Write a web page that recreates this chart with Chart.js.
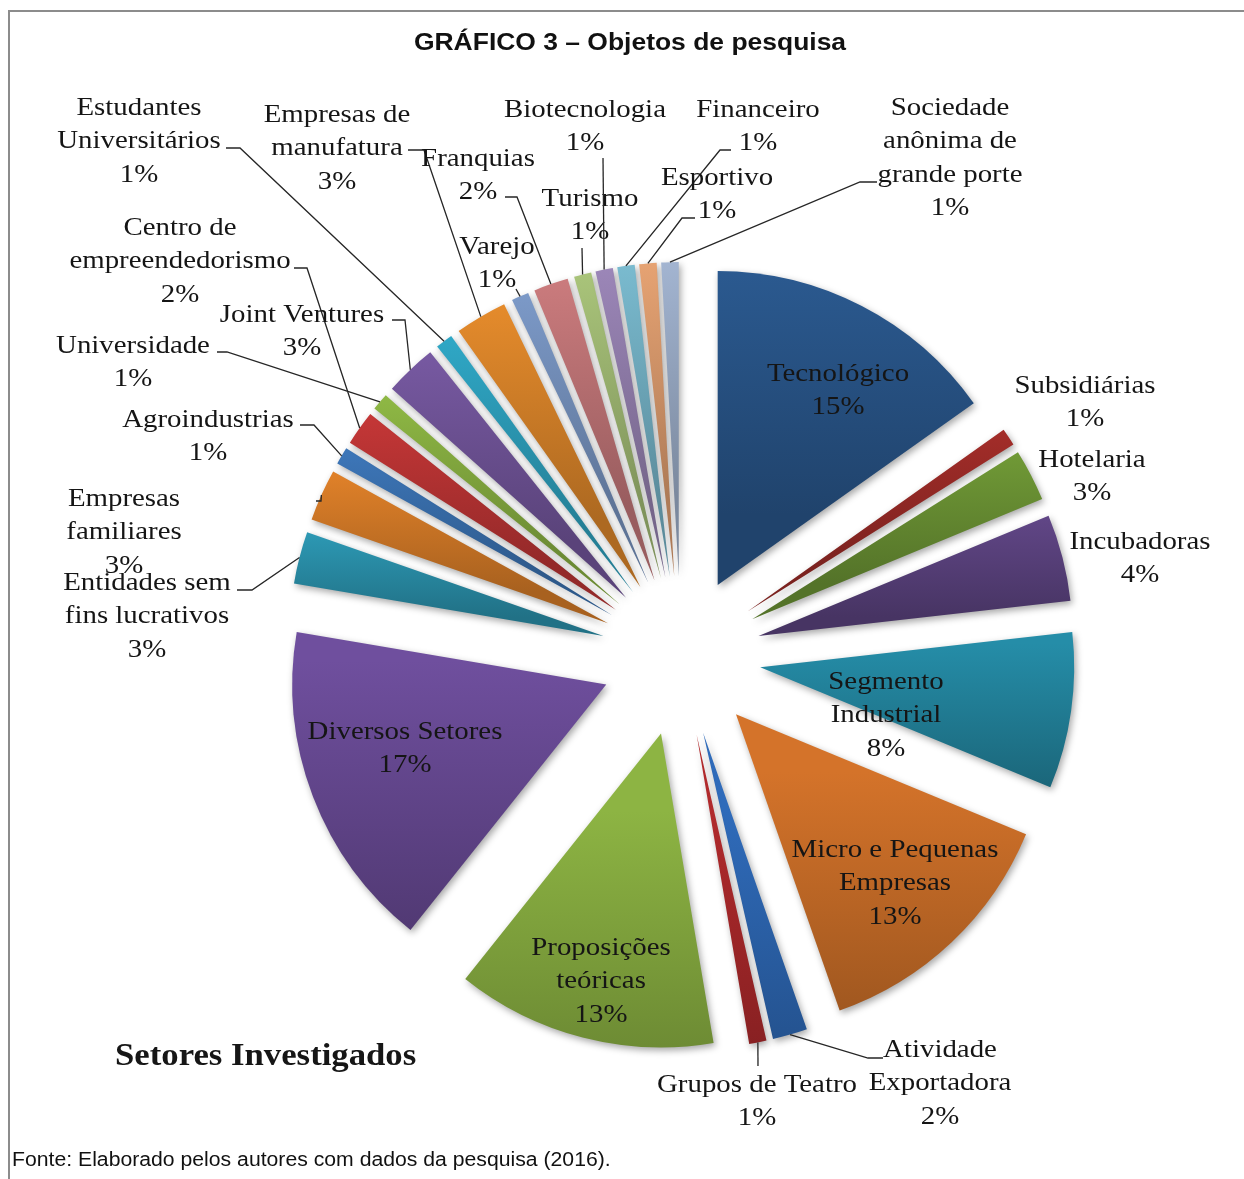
<!DOCTYPE html>
<html lang="pt-BR">
<head>
<meta charset="UTF-8">
<title>Gráfico 3 – Objetos de pesquisa</title>
<script src="https://cdn.jsdelivr.net/npm/chart.js@4.4.1/dist/chart.umd.min.js"></script>
<style>
  body { margin: 0; background: #fff; width: 1244px; height: 1179px; overflow: hidden; position: relative; }
  #moldura { position: absolute; left: 8px; top: 10px; right: -5px; bottom: -5px; border-top: 2px solid #8c8c8c; border-left: 2px solid #8c8c8c; }
  #grafico { position: absolute; left: 0; top: 0; }
  #titulo { position: absolute; left: 630px; top: 29px; line-height: 28px; font: bold 23px "Liberation Sans", Arial, sans-serif; color: #111; white-space: nowrap; transform: translateX(-50%) scaleX(1.15); }
  #setores { position: absolute; left: 115px; top: 1037px; line-height: 38px; font: bold 31px "Liberation Serif", "Times New Roman", serif; color: #161616; white-space: nowrap; transform: scaleX(1.12); transform-origin: left center; }
  #fonte { position: absolute; left: 12px; top: 1148px; line-height: 24px; font: 20px "Liberation Sans", Arial, sans-serif; color: #111; white-space: nowrap; transform: scaleX(1.06); transform-origin: left center; }
</style>
</head>
<body>
<div id="moldura"></div>
<canvas id="grafico" width="1244" height="1179"></canvas>
<div id="titulo">GRÁFICO 3 – Objetos de pesquisa</div>
<div id="setores">Setores Investigados</div>
<div id="fonte">Fonte: Elaborado pelos autores com dados da pesquisa (2016).</div>
<script>
// DADOS //

// setores na ordem do gráfico (sentido horário a partir do topo)
const categorias = [
  "Tecnológico", "Subsidiárias", "Hotelaria", "Incubadoras", "Segmento\nIndustrial",
  "Micro e Pequenas\nEmpresas", "Atividade\nExportadora", "Grupos de Teatro", "Proposições\nteóricas",
  "Diversos Setores", "Entidades sem\nfins lucrativos", "Empresas\nfamiliares", "Agroindustrias",
  "Centro de\nempreendedorismo", "Universidade", "Joint Ventures", "Estudantes\nUniversitários",
  "Empresas de\nmanufatura", "Varejo", "Franquias", "Turismo", "Biotecnologia", "Financeiro",
  "Esportivo", "Sociedade\nanônima de\ngrande porte"
];
// número de estudos por setor (estimado pelo tamanho das fatias, total 112)
const estudos = [17, 1, 3, 5, 9, 15, 2, 1, 15, 19, 3, 3, 1, 2, 1, 3, 1, 3, 1, 2, 1, 1, 1, 1, 1];

// ESTILO //
const cores = [
  "#2e609a", "#b0302c", "#78a43a", "#664a8e", "#258da8", "#d4732a", "#2f6bba", "#b02a2c",
  "#8db443", "#6f4f9e", "#2fa2bf", "#f08a2c", "#4280c8", "#d43b3b", "#9ac74a", "#8060ae",
  "#33b5d6", "#f7962f", "#86a6d8", "#db8587", "#b7d484", "#a891c7", "#84cae0", "#f9b07c",
  "#b0c3e2"
];
const RAIO = 314;
const EXPLOSAO = 80;

// posição de cada rótulo (centro da 1a linha) e pontos da linha guia
const rotulos = [
  { x: 838, y: 374 },
  { x: 1085, y: 386 },
  { x: 1092, y: 460 },
  { x: 1140, y: 542 },
  { x: 886, y: 682 },
  { x: 895, y: 850 },
  { x: 940, y: 1050, guia: [[883, 1058], [868, 1058]] },
  { x: 757, y: 1085, guia: [[758, 1066]] },
  { x: 601, y: 948 },
  { x: 405, y: 732 },
  { x: 147, y: 583, guia: [[237, 590], [252, 590]] },
  { x: 124, y: 499, guia: [[316, 501], [321, 501]] },
  { x: 208, y: 420, guia: [[300, 425], [314, 425]] },
  { x: 180, y: 228, guia: [[294, 268], [307, 268]] },
  { x: 133, y: 346, guia: [[217, 352], [227, 352]] },
  { x: 302, y: 315, guia: [[392, 320], [405, 320]] },
  { x: 139, y: 108, guia: [[226, 148], [240, 148]] },
  { x: 337, y: 115, guia: [[408, 150], [424, 150]] },
  { x: 497, y: 247, guia: [[516, 289]] },
  { x: 478, y: 159, guia: [[505, 197], [517, 197]] },
  { x: 590, y: 199, guia: [[582, 248]] },
  { x: 585, y: 110, guia: [[603, 158]] },
  { x: 758, y: 110, guia: [[731, 150], [720, 150]] },
  { x: 717, y: 178, guia: [[695, 218], [682, 218]] },
  { x: 950, y: 108, guia: [[877, 182], [860, 182]] }
];

function escurecer(hex, f) {
  const n = parseInt(hex.slice(1), 16);
  const r = Math.round(((n >> 16) & 255) * f);
  const g = Math.round(((n >> 8) & 255) * f);
  const b = Math.round((n & 255) * f);
  return "rgb(" + r + "," + g + "," + b + ")";
}

// degradê vertical de cada fatia (claro em cima, escuro embaixo)
function degrade(c) {
  const i = c.dataIndex;
  const area = c.chart.chartArea;
  if (!area || i === undefined) return cores[i] || "#888";
  const total = estudos.reduce((a, b) => a + b, 0);
  let antes = 0;
  for (let k = 0; k < i; k++) antes += estudos[k];
  const a0 = -Math.PI / 2 + antes / total * 2 * Math.PI;
  const a1 = a0 + estudos[i] / total * 2 * Math.PI;
  const meio = (a0 + a1) / 2;
  const cy = (area.top + area.bottom) / 2 + Math.sin(meio) * EXPLOSAO;
  let topo = cy, base = cy;
  for (let t = 0; t <= 24; t++) {
    const y = cy + Math.sin(a0 + (a1 - a0) * t / 24) * RAIO;
    topo = Math.min(topo, y);
    base = Math.max(base, y);
  }
  const grad = c.chart.ctx.createLinearGradient(0, topo, 0, base + 1);
  grad.addColorStop(0, cores[i]);
  grad.addColorStop(1, escurecer(cores[i], 0.7));
  return grad;
}

// FATIAS SEPARADAS //
const explosaoPlugin = {
  id: "explosao",
  beforeDatasetsDraw(chart) {
    const ctx = chart.ctx;
    ctx.save();
    ctx.shadowColor = "rgba(0, 0, 0, 0.35)";
    ctx.shadowBlur = 7;
    ctx.shadowOffsetX = 2;
    ctx.shadowOffsetY = 3;
    chart.getDatasetMeta(0).data.forEach((arco) => {
      const meio = (arco.startAngle + arco.endAngle) / 2;
      ctx.save();
      ctx.translate(Math.cos(meio) * EXPLOSAO, Math.sin(meio) * EXPLOSAO);
      arco.draw(ctx);
      ctx.restore();
    });
    ctx.restore();
    return false;
  }
};

// RÓTULOS //
const rotulosPlugin = {
  id: "rotulos",
  afterDraw(chart) {
    const ctx = chart.ctx;
    const arcos = chart.getDatasetMeta(0).data;
    const total = estudos.reduce((a, b) => a + b, 0);
    ctx.save();
    ctx.strokeStyle = "#262626";
    ctx.lineWidth = 1.3;
    ctx.fillStyle = "#151515";
    ctx.font = '26px "Liberation Serif", "Times New Roman", serif';
    ctx.textAlign = "center";
    ctx.textBaseline = "middle";
    rotulos.forEach((r, i) => {
      const arco = arcos[i];
      if (r.guia) {
        const meio = (arco.startAngle + arco.endAngle) / 2;
        const dist = EXPLOSAO + arco.outerRadius;
        ctx.beginPath();
        r.guia.forEach((p, k) => (k === 0 ? ctx.moveTo(p[0], p[1]) : ctx.lineTo(p[0], p[1])));
        ctx.lineTo(arco.x + Math.cos(meio) * dist, arco.y + Math.sin(meio) * dist);
        ctx.stroke();
      }
      const linhas = categorias[i].split("\n");
      linhas.push(Math.round(estudos[i] * 100 / total) + "%");
      linhas.forEach((texto, k) => {
        ctx.save();
        ctx.translate(r.x, r.y + k * 33.5);
        ctx.scale(1.11, 1);
        ctx.fillText(texto, 0, 0);
        ctx.restore();
      });
    });
    ctx.restore();
  }
};

const ctx = document.getElementById("grafico").getContext("2d");
new Chart(ctx, {
  type: "pie",
  data: {
    labels: categorias,
    datasets: [
      {
        label: "Setores Investigados",
        data: estudos,
        backgroundColor: degrade,
        borderWidth: 0,
        offset: 0,
      },
    ],
  },
  options: {
    responsive: false,
    devicePixelRatio: 1,
    animation: false,
    events: [],
    radius: RAIO,
    layout: { padding: { left: 118, top: 133, right: 0, bottom: 0 } },
    plugins: {
      legend: { display: false },
      tooltip: { enabled: false },
      title: { display: false },
    },
  },
  plugins: [explosaoPlugin, rotulosPlugin],
});
</script>
</body>
</html>
